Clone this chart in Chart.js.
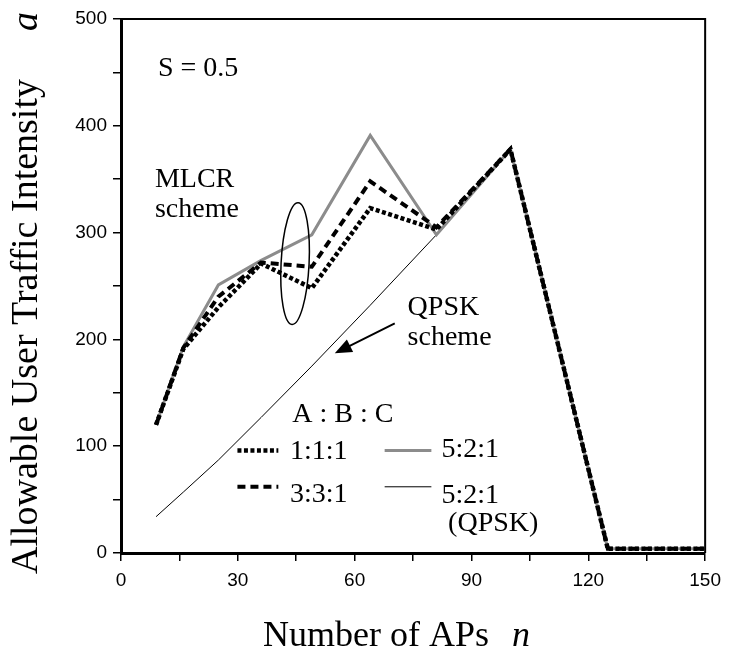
<!DOCTYPE html>
<html lang="en">
<head>
  <meta charset="UTF-8">
  <title>Allowable User Traffic Intensity vs Number of APs</title>
  <script src="https://cdn.jsdelivr.net/npm/chart.js"></script>
  <style>
    body { margin: 0; background: #fff; }
    #wrap { width: 729px; height: 650px; }
  </style>
</head>
<body>
  <div id="wrap"><canvas id="apChart" width="729" height="650"></canvas></div>

  <script>
    // number of APs n
    const nAPs = [9, 16, 25, 36, 49, 64, 81, 100, 125, 150];
    // MLCR scheme, A:B:C traffic ratios
    const mlcr111 = [120, 191, 230, 271, 248, 323, 303, 378, 4, 4];
    const mlcr331 = [120, 192, 240, 272, 268, 348, 305, 378, 4, 4];
    const mlcr521 = [120, 193, 251, 274, 298, 391, 298, 378, 4, 4];
    // QPSK scheme, 5:2:1
    const qpsk521 = [34, 57, 87, 127, 175, 232, 298, 378, 4, 4];

    const xTicks = [0, 30, 60, 90, 120, 150];
    const yTicks = [0, 100, 200, 300, 400, 500];

    const serif = '"Liberation Serif", "Times New Roman", serif';
    const sans = '"Liberation Sans", Arial, sans-serif';

    const toPoints = arr => nAPs.map((n, i) => ({ x: n, y: arr[i] }));

    // titles, annotations and the in-plot legend
    const extras = {
      id: 'extras',
      afterDraw(chart) {
        const { ctx, chartArea: ca, scales: { x, y } } = chart;
        const ds = chart.data.datasets;
        ctx.save();

        // top and right frame
        ctx.strokeStyle = '#000';
        ctx.lineWidth = 2;
        ctx.beginPath();
        ctx.moveTo(ca.left, ca.top);
        ctx.lineTo(ca.right, ca.top);
        ctx.lineTo(ca.right, ca.bottom);
        ctx.stroke();

        ctx.fillStyle = '#000';
        ctx.textBaseline = 'alphabetic';
        ctx.textAlign = 'left';

        // x axis title
        ctx.font = '36px ' + serif;
        ctx.fillText('Number of APs', 263, 646);
        ctx.font = 'italic 36px ' + serif;
        ctx.fillText('n', 512, 646);

        // y axis title
        ctx.save();
        ctx.translate(37, 574);
        ctx.rotate(-Math.PI / 2);
        ctx.font = '38px ' + serif;
        ctx.fillText('Allowable User Traffic Intensity', 0, 0);
        ctx.font = 'italic 38px ' + serif;
        ctx.fillText('a', 543, 0);
        ctx.restore();

        // annotations
        ctx.font = '28px ' + serif;
        ctx.fillText('S = 0.5', x.getPixelForValue(9.5), y.getPixelForValue(447));
        ctx.fillText('MLCR', x.getPixelForValue(8.7), y.getPixelForValue(343));
        ctx.fillText('scheme', x.getPixelForValue(8.7), y.getPixelForValue(315));
        ctx.fillText('QPSK', x.getPixelForValue(73.6), y.getPixelForValue(223));
        ctx.fillText('scheme', x.getPixelForValue(73.6), y.getPixelForValue(195));

        // ellipse grouping the MLCR curves
        ctx.lineWidth = 1.5;
        ctx.beginPath();
        ctx.ellipse(x.getPixelForValue(44.7), y.getPixelForValue(271), 14, 61, 0.05, 0, Math.PI * 2);
        ctx.stroke();

        // arrow to the QPSK curve
        const ax0 = x.getPixelForValue(70.3), ay0 = y.getPixelForValue(215);
        const ax1 = x.getPixelForValue(54.9), ay1 = y.getPixelForValue(187);
        const ang = Math.atan2(ay1 - ay0, ax1 - ax0);
        ctx.lineWidth = 2;
        ctx.beginPath();
        ctx.moveTo(ax0, ay0);
        ctx.lineTo(ax1 - 10 * Math.cos(ang), ay1 - 10 * Math.sin(ang));
        ctx.stroke();
        ctx.beginPath();
        ctx.moveTo(ax1, ay1);
        ctx.lineTo(ax1 - 17 * Math.cos(ang) + 7 * Math.sin(ang), ay1 - 17 * Math.sin(ang) - 7 * Math.cos(ang));
        ctx.lineTo(ax1 - 17 * Math.cos(ang) - 7 * Math.sin(ang), ay1 - 17 * Math.sin(ang) + 7 * Math.cos(ang));
        ctx.closePath();
        ctx.fill();

        // legend
        ctx.font = '28px ' + serif;
        ctx.fillText('A : B : C', x.getPixelForValue(44), y.getPixelForValue(123));
        const rows = [
          { d: ds[0], n0: 29.9, n1: 40.4, yl: 96, tn: 43.4, ty: 88, label: '1:1:1' },
          { d: ds[1], n0: 29.9, n1: 40.4, yl: 62, tn: 43.4, ty: 48, label: '3:3:1' },
          { d: ds[2], n0: 67.7, n1: 79.7, yl: 96, tn: 82.3, ty: 90, label: '5:2:1' },
          { d: ds[3], n0: 67.7, n1: 79.7, yl: 62, tn: 82.3, ty: 47, label: '5:2:1' }
        ];
        rows.forEach(r => {
          ctx.save();
          ctx.strokeStyle = r.d.borderColor;
          ctx.lineWidth = r.d.borderWidth;
          ctx.setLineDash(r.d.borderDash || []);
          ctx.beginPath();
          ctx.moveTo(x.getPixelForValue(r.n0), y.getPixelForValue(r.yl));
          ctx.lineTo(x.getPixelForValue(r.n1), y.getPixelForValue(r.yl));
          ctx.stroke();
          ctx.restore();
          ctx.fillText(r.label, x.getPixelForValue(r.tn), y.getPixelForValue(r.ty));
        });
        ctx.fillText('(QPSK)', x.getPixelForValue(84), y.getPixelForValue(21));

        ctx.restore();
      }
    };

    const ctx = document.getElementById('apChart').getContext('2d');
    const apChart = new Chart(ctx, {
      type: 'line',
      data: {
        datasets: [
          { label: '1:1:1', data: toPoints(mlcr111), borderColor: '#000', borderWidth: 4.5, borderDash: [4, 2.5] },
          { label: '3:3:1', data: toPoints(mlcr331), borderColor: '#000', borderWidth: 4, borderDash: [8, 5] },
          { label: '5:2:1', data: toPoints(mlcr521), borderColor: '#8c8c8c', borderWidth: 3 },
          { label: '5:2:1 (QPSK)', data: toPoints(qpsk521), borderColor: '#000', borderWidth: 1 }
        ]
      },
      options: {
        responsive: false,
        animation: false,
        events: [],
        elements: {
          point: { radius: 0 },
          line: { tension: 0, fill: false, borderCapStyle: 'butt', borderJoinStyle: 'miter' }
        },
        layout: { padding: { top: 19, right: 21, left: 0, bottom: 0 } },
        plugins: {
          legend: { display: false },
          tooltip: { enabled: false }
        },
        scales: {
          x: {
            type: 'linear',
            min: 0,
            max: 150,
            afterFit(s) { s.height = 97; },
            border: { display: true, color: '#000', width: 3 },
            grid: { display: true, drawOnChartArea: false, drawTicks: true, tickLength: 8, color: '#000', lineWidth: 1.5 },
            ticks: {
              stepSize: 15,
              autoSkip: false,
              maxRotation: 0,
              padding: 8,
              color: '#000',
              font: { family: sans, size: 19 },
              callback: v => xTicks.includes(v) ? String(v) : ''
            }
          },
          y: {
            type: 'linear',
            min: 0,
            max: 500,
            afterFit(s) { s.width = 121; },
            border: { display: true, color: '#000', width: 3 },
            grid: { display: true, drawOnChartArea: false, drawTicks: true, tickLength: 8, color: '#000', lineWidth: 1.5 },
            ticks: {
              stepSize: 50,
              autoSkip: false,
              padding: 6,
              color: '#000',
              font: { family: sans, size: 19 },
              callback: v => yTicks.includes(v) ? String(v) : ''
            }
          }
        }
      },
      plugins: [extras]
    });
  </script>
</body>
</html>
